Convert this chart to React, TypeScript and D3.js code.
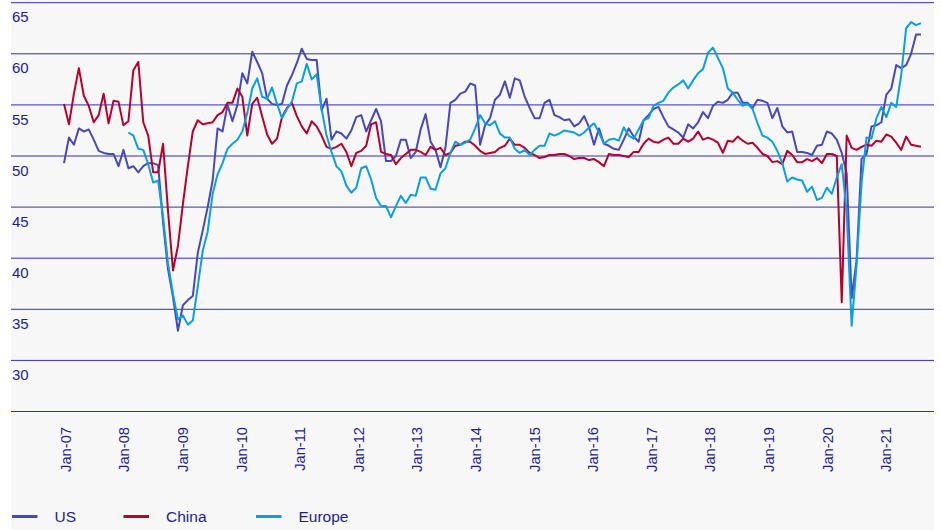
import React from "react";
import * as d3 from "d3";

// Tick labels
const xLabels = [
  "Jan-07", "Jan-08", "Jan-09", "Jan-10", "Jan-11", "Jan-12", "Jan-13", "Jan-14",
  "Jan-15", "Jan-16", "Jan-17", "Jan-18", "Jan-19", "Jan-20", "Jan-21",
];
const yLabelValues = [30, 35, 40, 45, 50, 55, 60, 65];
const gridValues = [25, 30, 35, 40, 45, 50, 55, 60, 65];

// Monthly PMI readings, Jan-07 .. Jun-21
const usValues = [
  49.3, 51.8, 51.1, 52.7, 52.4, 52.6, 51.6, 50.5, 50.3, 50.2, 50.2, 49.0,
  50.6, 48.8, 49.0, 48.4, 49.0, 49.3, 49.3, 49.1, 43.5, 38.9, 36.2, 32.9,
  35.4, 35.9, 36.3, 40.5, 42.7, 45.0, 47.6, 52.7, 52.4, 55.0, 53.4, 55.0,
  58.1, 57.1, 60.2, 59.2, 58.1, 55.6, 55.1, 55.0, 55.1, 56.9, 57.9, 59.1,
  60.5, 59.5, 59.4, 59.4, 54.5, 55.6, 51.6, 52.4, 52.2, 51.7, 52.5, 53.8,
  54.0, 52.4, 53.5, 54.6, 53.4, 49.5, 49.5, 50.0, 51.6, 51.6, 49.8, 50.4,
  52.6, 54.1, 51.4, 50.6, 48.9, 50.8, 55.2, 55.5, 56.1, 56.3, 57.1, 56.9,
  51.1, 53.0, 53.7, 55.5, 56.0, 57.3, 55.7, 57.6, 57.4, 55.8, 54.7, 53.7,
  53.7, 55.2, 55.5, 54.0, 53.8, 53.5, 53.6, 52.9, 53.2, 53.9, 52.8, 51.1,
  52.7, 51.2, 51.0, 50.7, 50.6, 51.6, 52.7, 51.9, 51.4, 53.5, 54.0, 54.6,
  54.8, 53.8, 52.9, 52.6, 52.3, 51.8, 53.1, 52.7, 53.3, 54.3, 53.7, 54.9,
  55.3, 55.2, 55.5, 56.2, 56.2, 55.2, 55.2, 54.7, 55.5, 55.4, 55.2, 53.7,
  54.7, 52.9, 52.3, 52.4, 50.4, 50.4, 50.3, 50.1, 51.0, 51.1, 52.4, 52.2,
  51.6, 50.3, 48.3, 36.1, 39.8, 49.7, 50.2, 52.9, 53.0, 53.3, 56.0, 56.6,
  58.9, 58.6, 58.9, 60.0, 61.9, 61.9,
];

const chinaValues = [
  55.1, 53.1, 56.1, 58.6, 55.9, 54.9, 53.3, 54.0, 56.1, 53.2, 55.4, 55.3,
  53.0, 53.4, 58.4, 59.2, 53.3, 52.0, 48.4, 48.4, 51.2, 44.6, 38.8, 41.2,
  45.3, 49.0, 52.4, 53.5, 53.1, 53.2, 53.3, 54.0, 54.3, 55.2, 55.2, 56.6,
  55.8, 52.0, 55.1, 55.7, 53.9, 52.1, 51.2, 51.7, 53.8, 54.7, 55.2, 53.9,
  52.9, 52.2, 53.4, 52.9, 52.0, 50.9, 50.7, 50.9, 51.2, 50.4, 49.0, 50.3,
  50.5, 51.0, 53.1, 53.3, 50.4, 50.2, 50.1, 49.2, 49.8, 50.2, 50.6, 50.6,
  50.4, 50.1, 50.9, 50.6, 50.8, 50.1, 50.3, 51.0, 51.1, 51.4, 51.4, 51.0,
  50.5, 50.2, 50.3, 50.4, 50.8, 51.0, 51.7, 51.1, 51.1, 50.8, 50.3, 50.1,
  49.8, 49.9, 50.1, 50.1, 50.2, 50.2, 50.0, 49.7, 49.8, 49.8, 49.6, 49.7,
  49.4, 49.0, 50.2, 50.1, 50.1, 50.0, 49.9, 50.4, 50.4, 51.2, 51.7, 51.4,
  51.3, 51.6, 51.8, 51.2, 51.2, 51.7, 51.4, 51.7, 52.4, 51.6, 51.8, 51.6,
  51.3, 50.3, 51.5, 51.4, 51.9, 51.5, 51.2, 51.3, 50.8, 50.2, 50.0, 49.4,
  49.5, 49.2, 50.5, 50.1, 49.4, 49.4, 49.7, 49.5, 49.8, 49.3, 50.2, 50.2,
  50.0, 35.7, 52.0, 50.8, 50.6, 50.9, 51.1, 51.0, 51.5, 51.4, 52.1, 51.9,
  51.3, 50.6, 51.9, 51.1, 51.0, 50.9,
];

// Europe starts Feb-08 (month index 13)
const europeStart = 13;
const europeValues = [
  52.3, 52.0, 50.7, 50.6, 49.2, 47.4, 47.6, 44.0, 39.5, 36.5, 34.0,
  34.4, 33.5, 33.9, 37.2, 40.7, 42.6, 46.3, 48.2, 49.3, 50.7, 51.2, 51.6,
  52.4, 54.2, 56.6, 57.6, 55.8, 55.6, 56.7, 55.1, 53.7, 54.6, 55.3, 57.1,
  57.3, 59.0, 57.5, 58.0, 54.6, 52.0, 50.4, 49.0, 48.5, 47.1, 46.4, 46.9,
  48.8, 49.0, 47.7, 45.9, 45.1, 45.1, 44.0, 45.1, 46.1, 45.4, 46.2, 46.1,
  47.9, 47.9, 46.8, 46.7, 48.3, 48.8, 50.3, 51.4, 51.1, 51.3, 51.6, 52.7,
  54.0, 53.2, 53.0, 53.4, 52.2, 51.8, 51.8, 50.7, 50.3, 50.6, 50.1, 50.6,
  51.0, 51.0, 52.2, 52.0, 52.2, 52.5, 52.4, 52.3, 52.0, 52.3, 52.8, 53.2,
  52.3, 51.2, 51.6, 51.7, 51.5, 52.8, 52.0, 51.7, 52.6, 53.5, 53.7, 54.9,
  55.2, 55.4, 56.2, 56.7, 57.0, 57.4, 56.6, 57.4, 58.1, 58.5, 60.1, 60.6,
  59.6, 58.6, 56.6, 56.2, 55.5, 54.9, 55.1, 54.6, 53.2, 52.0, 51.8, 51.4,
  50.5, 49.3, 47.5, 47.9, 47.7, 47.6, 46.5, 47.0, 45.7, 45.9, 46.9, 46.3,
  47.9, 49.2, 44.5, 33.4, 39.4, 47.4, 51.8, 51.7, 53.7, 54.8, 53.8, 55.2,
  54.8, 57.9, 62.5, 63.1, 62.8, 63.0,
];

const seriesNames = ["US", "China", "Europe"];
const seriesColors = ["#4848bb", "#b8002c", "#0a9fe2"];

const W = 941;
const H = 530;
const TEXT = "#1d1d96";
const FONT = "'Liberation Sans', Arial, Helvetica, sans-serif";

export default function App() {
  const lastIndex = chinaValues.length - 1;
  const x = d3.scaleLinear().domain([0, lastIndex]).range([64, 921]);
  const y = d3.scaleLinear().domain([25, 65]).range([411.5, 2.7]);
  const labelX = d3.scaleLinear().domain([0, xLabels.length - 1]).range([65.5, 885.9]);

  const makeLine = (start: number) =>
    d3
      .line<number>()
      .x((_, i) => x(i + start))
      .y((d) => y(d));

  const series = [
    { name: seriesNames[0], color: seriesColors[0], d: makeLine(0)(usValues) },
    { name: seriesNames[1], color: seriesColors[1], d: makeLine(0)(chinaValues) },
    { name: seriesNames[2], color: seriesColors[2], d: makeLine(europeStart)(europeValues) },
  ];

  const legendX = [12, 123.5, 256];

  return (
    <svg
      width={W}
      height={H}
      viewBox={`0 0 ${W} ${H}`}
      style={{ position: "absolute", left: 0, top: 0, display: "block" }}
      fontFamily={FONT}
    >
      <rect x={0} y={0} width={W} height={H} fill="#ffffff" />
      <rect x={11} y={0} width={923} height={H} fill="#f7f7f7" />

      {gridValues.map((v) => (
        <line
          key={`g${v}`}
          x1={11}
          x2={934}
          y1={y(v)}
          y2={y(v)}
          stroke="#3030b0"
          strokeWidth={1}
        />
      ))}

      {yLabelValues.map((v) => (
        <text key={`yl${v}`} x={12} y={y(v) + 19.6} fontSize={15} fill={TEXT}>
          {v}
        </text>
      ))}

      {xLabels.map((lab, i) => (
        <text
          key={lab}
          transform={`translate(${labelX(i)},427) rotate(-90)`}
          textAnchor="end"
          dy="0.36em"
          fontSize={14.7}
          fill={TEXT}
        >
          {lab}
        </text>
      ))}

      {series.map((s) => (
        <path
          key={s.name}
          d={s.d || ""}
          fill="none"
          stroke={s.color}
          strokeWidth={2}
          strokeLinejoin="round"
        />
      ))}

      {series.map((s, i) => (
        <g key={`lg${s.name}`}>
          <line
            x1={legendX[i]}
            x2={legendX[i] + 25.5}
            y1={516.5}
            y2={516.5}
            stroke={s.color}
            strokeWidth={3}
          />
          <text x={legendX[i] + 42.5} y={516.5} dy="0.36em" fontSize={15.5} fill={TEXT}>
            {s.name}
          </text>
        </g>
      ))}
    </svg>
  );
}
